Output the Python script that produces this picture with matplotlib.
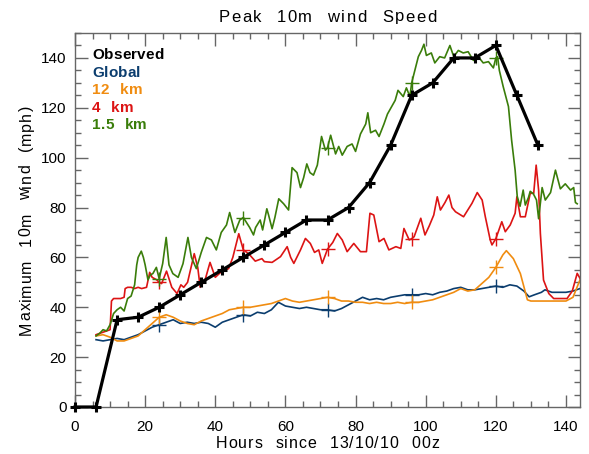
import matplotlib
matplotlib.use("Agg")
import matplotlib.pyplot as plt
from matplotlib.ticker import MultipleLocator
from matplotlib.font_manager import FontProperties, findfont
from matplotlib import ft2font
import numpy as np

# ---------------- data ----------------
obs_hours = [0, 6, 12, 18, 24, 30, 36, 42, 48, 54, 60, 66, 72, 78, 84, 90, 96, 102, 108, 114, 120, 126, 132]
obs_wind = [0, 0, 35, 36, 40, 45, 50, 55, 60, 65, 70, 75, 75, 80, 90, 105, 125, 130, 140, 140, 145, 125, 105]

global_hours = [6, 8, 10, 12, 14, 16, 18, 20, 22, 24, 26, 28, 30, 32, 34, 36, 38, 40, 42, 44, 46, 48,
                50, 52, 54, 56, 58, 60, 62, 64, 66, 68, 70, 72, 74, 76, 78, 80, 82, 84, 86, 88, 90,
                92, 94, 96, 98, 100, 102, 104, 106, 108, 110, 112, 114, 116, 118, 120, 122, 124, 126,
                128, 129.5, 131, 133, 134, 136, 138, 140, 142, 144]
global_wind = [27, 26.5, 27, 27.5, 27, 28, 29, 30.5, 32, 33, 34, 35, 33.5, 34, 33.5, 34, 33.5, 32, 34, 35, 36, 37,
               36.5, 38, 37.5, 39, 42, 40.5, 40, 39.5, 40, 39.5, 39, 39, 38.5, 39.5, 41, 42.5, 44, 43, 43.5, 43, 44,
               44.5, 45, 45, 45, 45.5, 45, 46, 46.5, 47.5, 48, 47, 47, 47.5, 48, 48.5, 48, 49, 48.5,
               46.5, 44.2, 45, 46, 47, 46, 46, 46, 46.5, 47.5]

km12_hours = [6, 8, 10, 12, 14, 16, 18, 20, 22, 24, 26, 28, 30, 32, 34, 36, 38, 40, 42, 44, 46, 48,
              50, 52, 54, 56, 58, 60, 62, 64, 66, 68, 70, 72, 74, 76, 78, 80, 82, 84, 86, 88, 90,
              92, 94, 96, 98, 100, 102, 104, 106, 108, 110, 112, 114, 116, 118, 120, 122, 123, 125,
              127, 129, 130, 132, 134, 136, 138, 140, 142, 144]
km12_wind = [28.5, 29, 28, 26.5, 26.5, 27.5, 28.5, 31, 33.5, 36, 37, 36, 34.5, 33.5, 33, 34.5, 35.5, 36.5, 37.5, 39, 39.5, 40,
             40, 40.5, 41, 41.5, 42.5, 43.5, 42.5, 42, 42.5, 43, 43.5, 44, 43.5, 42.5, 42.5, 42, 42, 41.5, 42, 41.5, 41.5,
             42, 41.5, 42, 42, 42.5, 43, 44, 45, 46, 47.5, 46.5, 47, 49.5, 52, 56, 61, 62.7, 59.5,
             53.5, 43, 42.5, 42.5, 42.5, 42.5, 42.5, 42.5, 44, 51]

km4_hours = [6, 7, 8, 9, 10, 10.4, 11, 12, 13, 14, 14.3, 15, 16, 17, 18, 19, 20.4, 21.3, 22, 23.3, 24,
             24.7, 26.1, 27.6, 29.1, 30.2, 31, 32.1, 34, 35, 35.7, 37.1, 38.5, 40, 41.9, 43.8, 45, 46.7, 48,
             49.5, 51.4, 53.3, 54, 56.2, 58.6, 60.5, 61.5, 62.4, 64.3, 65.7, 67.1, 68.3, 69.5, 70.5, 72,
             73.5, 74.8, 76.2, 77.6, 79.5, 81.4, 83.1, 84.1, 85.2, 86.7, 88.1, 89.5, 91.5, 92.9, 93.8, 95.3,
             96, 96.7, 98.6, 99.8, 101, 102.3, 103.3, 104.2, 105.5, 106.6, 107.5, 108.5, 110.8, 112, 113.2,
             114.7, 116.1, 117, 118.4, 118.9, 120, 121.7, 122.7, 124.1, 125.5, 126, 127, 128.4, 129.8,
             130.8, 131.5, 132.2, 132.7, 133.6, 135.1, 136.5, 138.4, 140.3, 141.8, 143.2, 144]
km4_wind = [29, 29.5, 30, 30.5, 31, 42.5, 43.5, 43.5, 43.5, 44, 47.5, 48, 48, 47.5, 48, 47.5, 48, 54, 52, 51, 50,
            49.5, 54.5, 48, 45.5, 49, 48, 50, 61.5, 56, 48, 51, 58, 52, 54.5, 55.5, 60, 69.5, 63,
            61.5, 58.5, 59.5, 58.3, 58, 60.3, 64.3, 60, 57.6, 63, 67.6, 65.6, 62, 63, 57.6, 63.3,
            66, 69.6, 67, 62.3, 65.6, 62.3, 62.3, 77.7, 77, 66.3, 67.6, 63, 64.3, 63.6, 71.6, 67,
            67.5, 68.3, 75.7, 69, 72.6, 77, 84.3, 79, 82, 85, 80, 78.3, 76.3, 79, 81.7,
            86, 83, 76.3, 67, 65, 67.5, 74.3, 70.3, 73, 77.7, 84.3, 76.3, 76.3, 85.7,
            85.7, 97, 87, 69.6, 50.9, 45.5, 43.5, 43.5, 43.5, 46.5, 53.6, 51.6]

km15_hours = [6, 7, 8, 9, 10, 11, 12, 13, 14, 15, 16, 17, 17.6, 18, 18.9, 19.5, 20, 20.8, 21.5, 22.2, 23.2, 24,
              25, 26, 26.8, 27.9, 29.4, 30.8, 32.2, 33.2, 34.6, 36, 37.5, 38.9, 40.3, 41.7, 43.2, 44.1, 45.6,
              47, 48, 49.8, 50.9, 51.5, 52.8, 53.5, 54.7, 55.2, 56.2, 57, 58.1, 59.5, 60.9, 61.9, 63.3,
              64.3, 65.2, 66.1, 67, 68, 69.1, 70.3, 71.4, 72, 72.9, 74.3, 75.2, 76.2, 77.6, 79, 80, 81.4,
              82.9, 83.5, 84.3, 85.7, 86.7, 88.1, 89.1, 90.5, 91.3, 92.1, 93.6, 94.5, 95.5, 96, 96.9, 97.9,
              98.8, 99.5, 100.2, 101.6, 102.6, 104, 105.4, 106.9, 108, 109.3, 110.7, 112.1, 113.6, 115,
              116.4, 117.9, 119.3, 120, 120.5, 121, 122.1, 123.6, 124.5, 125.5, 126.1, 126.9, 127.8, 128.4,
              129.3, 129.8, 130.7, 131.6, 132.2, 133.2, 134.1, 135.6, 137, 138.4, 139.8, 141.3, 142.2,
              142.7, 143.2]
km15_wind = [28.5, 29.5, 31, 30.5, 33, 37.5, 39, 40, 38.5, 43.5, 44.5, 49, 57, 60, 62.5, 60, 57, 51, 53, 53.5, 56, 51.5,
             57.5, 68, 57, 53.5, 52, 57.5, 68, 60, 55.5, 62, 68, 67, 63, 70, 73, 78, 70,
             75, 76, 72, 69, 72, 75, 71, 79.5, 77, 71.5, 76, 83.5, 81.5, 79, 96, 94,
             88, 92, 97.5, 94, 93, 97, 108.5, 103, 104, 109, 101.5, 104.5, 101, 104.5, 105.5, 102.5, 109.5,
             113.5, 118, 110, 111, 108.5, 113.5, 117.5, 121, 123, 127, 124.5, 128, 124.5, 130, 135, 140.5,
             143, 145.5, 141, 142, 138, 140.5, 140, 145, 140.5, 143, 142, 142.5, 139, 140.5,
             138, 138.5, 136, 140, 140.5, 135, 128.5, 120.5, 107, 95, 84.5, 80.5, 87, 81,
             84, 86.5, 85.5, 83, 75.5, 88, 83, 86, 95, 87.5, 89.5, 87, 88,
             82, 81.5]

marker_hours = [24, 48, 72, 96, 120]
legend_labels = ["Observed", "Global", "12 km", "4 km", "1.5 km"]
colors = ["black", "#0b3d6e", "#f08c10", "#dc1414", "#3a7d0a"]
title_text = "Peak 10m wind Speed"
xlabel_text = "Hours since 13/10/10 00z"
ylabel_text = "Maximum 10m wind (mph)"

# ---------------- figure ----------------
W, H, DPI = 589, 454, 100
FONT = 'Liberation Sans'
plt.rcParams['font.family'] = [FONT, 'DejaVu Sans']
fig = plt.figure(figsize=(W / DPI, H / DPI), dpi=DPI)
ax = fig.add_axes([75 / W, (H - 407) / H, (580 - 75) / W, (407 - 33) / H])


def advances(s, size, weight):
    """Horizontal advance of each character, in pixels."""
    prop = FontProperties(family=FONT, size=size, weight=weight)
    f = ft2font.FT2Font(findfont(prop), hinting_factor=1)
    f.set_size(size, DPI)
    out = []
    for ch in s:
        g = f.load_char(ord(ch))
        out.append(g.linearHoriAdvance / 65536.0)
    return out


def spaced_text(s, x, y, size, weight='normal', color='black', tracking=1.0, space=None,
                align='center', vertical=False):
    """Draw letter-spaced text. x, y in pixels from the top-left corner; y is the baseline."""
    adv = advances(s, size, weight)
    if space is not None:
        adv = [space if ch == ' ' else a for ch, a in zip(s, adv)]
    total = sum(adv) + tracking * (len(s) - 1)
    pen = -total / 2 if align == 'center' else 0.0
    for ch, a in zip(s, adv):
        if ch != ' ':
            c = pen + a / 2
            if vertical:
                fx, fy, rot = x / W, (H - y + c) / H, 90
            else:
                fx, fy, rot = (x + c) / W, (H - y) / H, 0
            fig.text(fx, fy, ch, fontsize=size, fontweight=weight, color=color, family=FONT,
                     ha='center', va='baseline', rotation=rot, rotation_mode='anchor')
        pen += a + tracking


series = [(global_hours, global_wind, colors[1]),
          (km12_hours, km12_wind, colors[2]),
          (km4_hours, km4_wind, colors[3]),
          (km15_hours, km15_wind, colors[4])]
for hrs, vals, col in series:
    hrs = np.asarray(hrs, dtype=float)
    vals = np.asarray(vals, dtype=float)
    ax.plot(hrs, vals, color=col, lw=1.2, zorder=2)
    idx = [i for i, h in enumerate(hrs) if h in marker_hours]
    ax.plot(hrs[idx], vals[idx], ls='none', marker='+', ms=10, mew=1.0, color=col, zorder=2)

ax.plot(obs_hours, obs_wind, color='black', lw=2.3, marker='+', ms=7, mew=2.2, zorder=3, clip_on=False)

ax.set_xlim(0, 144)
ax.set_ylim(0, 150)
ax.xaxis.set_major_locator(MultipleLocator(20))
ax.xaxis.set_minor_locator(MultipleLocator(5))
ax.yaxis.set_major_locator(MultipleLocator(20))
ax.yaxis.set_minor_locator(MultipleLocator(5))
ax.tick_params(which='both', direction='in', top=True, right=True, color='#666666', width=1.0,
               labelsize=11)
ax.tick_params(which='major', length=9)
ax.tick_params(which='minor', length=4.5)
ax.tick_params(axis='x', pad=9.5)
ax.tick_params(axis='y', pad=6)
for sp in ax.spines.values():
    sp.set_color('#666666')
    sp.set_linewidth(1.0)

# title and axis labels (letter-spaced, as in the original)
spaced_text(title_text, 327.5, 21.5, 12, tracking=1.5, space=12)
spaced_text(xlabel_text, 327.5, 448.5, 11.5, tracking=1.0, space=11)
spaced_text(ylabel_text, 30.5, 220, 11.5, tracking=1.0, space=11, vertical=True)

# legend (coloured text)
for i, (lab, col) in enumerate(zip(legend_labels, colors)):
    spaced_text(lab, 92.0, 59.3 + i * 17.4, 11, weight='bold', color=col, tracking=0.3,
                space=10.5, align='left')

fig.savefig("out.png", dpi=DPI)
